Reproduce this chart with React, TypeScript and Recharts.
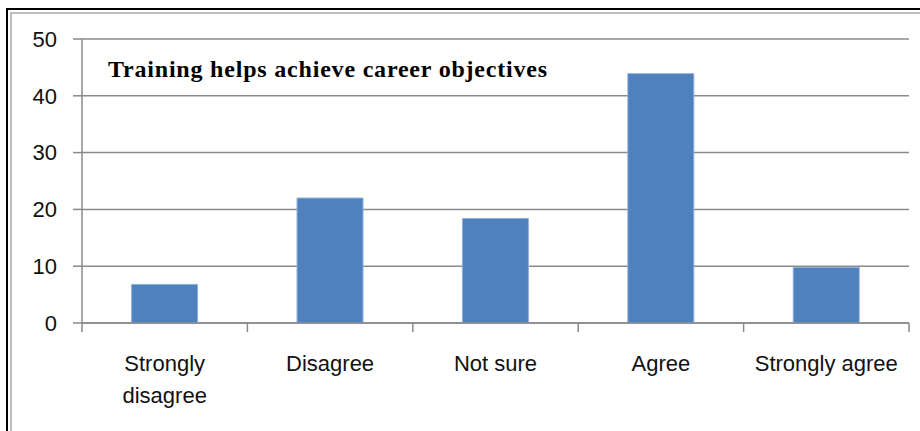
import { BarChart, Bar, XAxis, YAxis, CartesianGrid } from 'recharts';

const categories = ['Strongly\ndisagree', 'Disagree', 'Not sure', 'Agree', 'Strongly agree'];
const values = [6.8, 22, 18.4, 43.9, 9.8];
const yTicks = [0, 10, 20, 30, 40, 50];
const title = 'Training helps achieve career objectives';

const data = categories.map((name, i) => ({ name, value: values[i] }));

const AXIS = '#8a8a8a';
const FONT = '"Liberation Sans", Arial, sans-serif';

const CategoryTick = (props: any) => {
  const { x, y, payload, index, width, visibleTicksCount } = props;
  const band = width / visibleTicksCount;
  const left = x - band / 2;
  const lines = String(payload.value).split('\n');
  return (
    <g>
      <line x1={left} y1={y} x2={left} y2={y + 9} stroke={AXIS} strokeWidth={1.5} />
      {index === visibleTicksCount - 1 && (
        <line x1={left + band} y1={y} x2={left + band} y2={y + 9} stroke={AXIS} strokeWidth={1.5} />
      )}
      {lines.map((ln, i) => (
        <text
          key={i}
          x={x}
          y={y + 48 + i * 32}
          textAnchor="middle"
          fontFamily={FONT}
          fontSize={22}
          fill="#111"
        >
          {ln}
        </text>
      ))}
    </g>
  );
};

const App = () => {
  return (
    <div style={{ position: 'relative', width: 920, height: 431, overflow: 'hidden', background: '#fff' }}>
      <style>{'body{margin:0}'}</style>
      <div
        style={{
          position: 'absolute', left: 6, top: 8, width: 1000, height: 1000,
          borderLeft: '2px solid #000', borderTop: '2px solid #000'
        }}
      />
      <div
        style={{
          position: 'absolute', left: 10, top: 12, width: 1000, height: 1000,
          borderLeft: '2px solid #bdbdbd', borderTop: '2px solid #bdbdbd'
        }}
      />
      <div style={{ position: 'absolute', left: 0, top: 0 }}>
        <BarChart
          width={920}
          height={431}
          data={data}
          margin={{ top: 39, right: 11, left: 0, bottom: 0 }}
          barCategoryGap="30%"
        >
          <CartesianGrid vertical={false} stroke={AXIS} strokeWidth={1.5} />
          <XAxis
            dataKey="name"
            height={108}
            interval={0}
            tickSize={0}
            tickMargin={0}
            tickLine={false}
            axisLine={{ stroke: AXIS, strokeWidth: 1.5 }}
            tick={<CategoryTick />}
          />
          <YAxis
            width={82}
            domain={[0, 50]}
            ticks={yTicks}
            tickSize={9}
            tickMargin={16}
            axisLine={{ stroke: AXIS, strokeWidth: 1.5 }}
            tickLine={{ stroke: AXIS, strokeWidth: 1.5 }}
            tick={{ fill: '#111', fontSize: 22, fontFamily: FONT }}
          />
          <Bar dataKey="value" fill="#4f81bd" stroke="#8fb0da" strokeWidth={1} isAnimationActive={false} />
        </BarChart>
      </div>
      <svg width={920} height={431} style={{ position: 'absolute', left: 0, top: 0, pointerEvents: 'none' }}>
        <text
          x={108}
          y={77}
          fontFamily='"Liberation Serif", "Times New Roman", serif'
          fontWeight="bold"
          fontSize={24}
          letterSpacing={0.8}
          fill="#000"
        >
          {title}
        </text>
      </svg>
    </div>
  );
};

export default App;
